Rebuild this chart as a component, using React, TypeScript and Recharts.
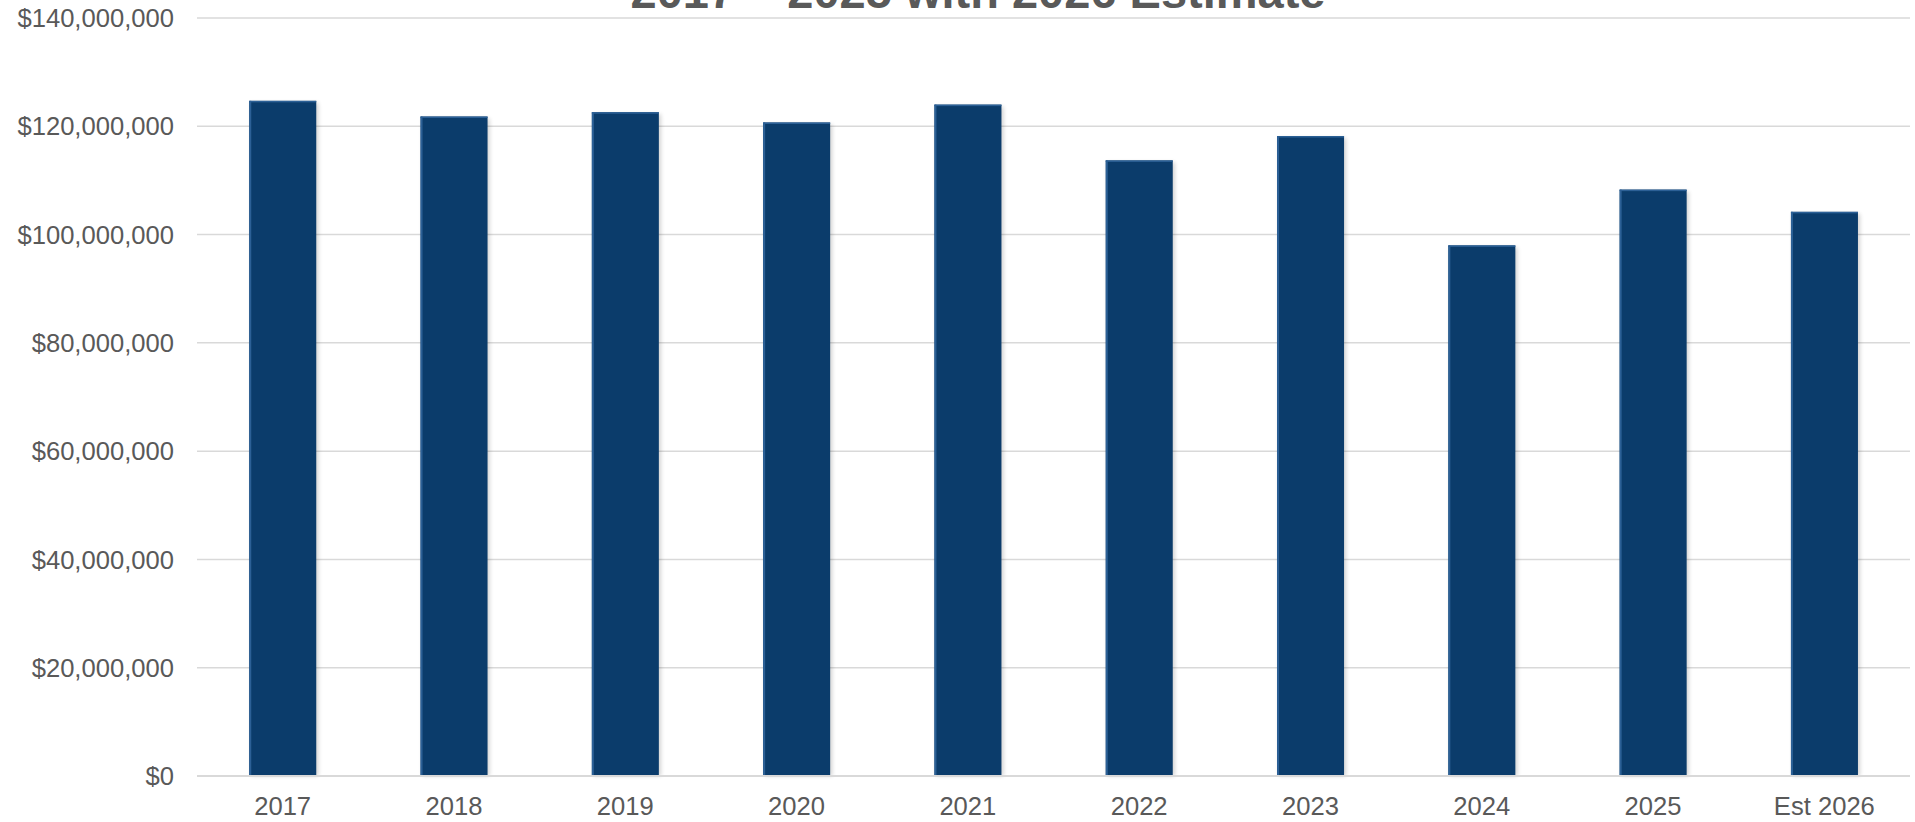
import React from 'react'
import { BarChart, Bar, XAxis, YAxis, CartesianGrid } from 'recharts'

const years = ['2017', '2018', '2019', '2020', '2021', '2022', '2023', '2024', '2025', 'Est 2026']
const amounts = [124.7, 121.8, 122.6, 120.7, 124.0, 113.7, 118.2, 98.0, 108.3, 104.2].map((m) => m * 1000000)
const yTicks = [0, 20000000, 40000000, 60000000, 80000000, 100000000, 120000000, 140000000]

const chartData = years.map((year, i) => ({ year, amount: amounts[i] }))

const formatDollars = (value: number) => '$' + value.toLocaleString('en-US')

const ShadedBar = (props: any) => {
  const { x, y, width, height } = props
  if (!height || height <= 0) return null
  return (
    <g>
      <rect x={x + 2} y={y + 2} width={width} height={height - 2} fill="#000" opacity={0.18} filter="url(#barShadow)" />
      <rect x={x} y={y} width={width} height={height} fill="#0b3c6b" />
      <rect x={x} y={y} width={2} height={height} fill="#2c6096" />
      <rect x={x} y={y} width={width} height={1.5} fill="#2c6096" />
    </g>
  )
}

export default function App() {
  return (
    <div style={{ position: 'absolute', left: 0, top: 0, width: 1915, height: 822, overflow: 'hidden', background: '#fff' }}>
      <BarChart
        width={1915}
        height={822}
        data={chartData}
        margin={{ top: 18, right: 5, bottom: 0, left: 0 }}
        barCategoryGap="30.5%"
      >
        <defs>
          <filter id="barShadow" x="-20%" y="-5%" width="140%" height="110%">
            <feGaussianBlur stdDeviation="2" />
          </filter>
        </defs>
        <text
          x={978}
          y={8}
          textAnchor="middle"
          fill="#595959"
          fontSize={47}
          fontWeight="bold"
          fontFamily="'Liberation Sans', Arial, sans-serif"
        >
          2017 – 2025 with 2026 Estimate
        </text>
        <CartesianGrid vertical={false} stroke="#d9d9d9" strokeWidth={1.5} />
        <XAxis
          dataKey="year"
          height={46}
          tickLine={false}
          axisLine={{ stroke: '#d9d9d9', strokeWidth: 2 }}
          tickMargin={15}
          tick={{ fill: '#595959', fontSize: 25.6, fontFamily: "'Liberation Sans', Arial, sans-serif" }}
          interval={0}
        />
        <YAxis
          width={197}
          domain={[0, 140000000]}
          ticks={yTicks}
          axisLine={false}
          tickLine={false}
          tickMargin={17}
          tickFormatter={formatDollars}
          tick={{ fill: '#595959', fontSize: 25.6, fontFamily: "'Liberation Sans', Arial, sans-serif" }}
          interval={0}
        />
        <Bar dataKey="amount" shape={<ShadedBar />} isAnimationActive={false} />
      </BarChart>
    </div>
  )
}
